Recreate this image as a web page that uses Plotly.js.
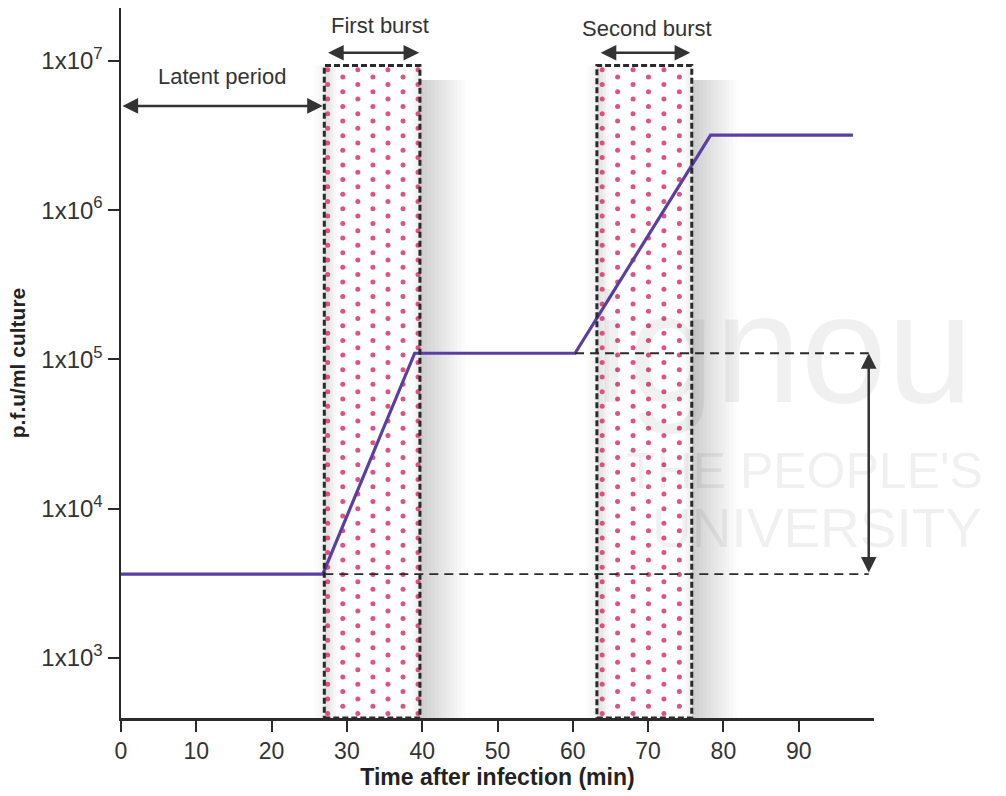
<!DOCTYPE html>
<html><head><meta charset="utf-8">
<script src="https://cdn.plot.ly/plotly-3.0.1.min.js"></script>
<style>html,body{margin:0;padding:0;background:#fff}#chart{width:1006px;height:796px}</style>
</head><body><div id="chart"></div>
<script>
// ---- data ----
const timeMin = [0, 26.8, 39.0, 60.3, 78.3, 97.2];
const pfuPerMl = [3650, 3650, 110000, 110000, 3180000, 3180000];
const xTickVals = [0, 10, 20, 30, 40, 50, 60, 70, 80, 90];
const xTickText = ['0', '10', '20', '30', '40', '50', '60', '70', '80', '90'];
const yTickVals = [1e3, 1e4, 1e5, 1e6, 1e7];
const yTickText = ['1x10<sup>3</sup>', '1x10<sup>4</sup>', '1x10<sup>5</sup>', '1x10<sup>6</sup>', '1x10<sup>7</sup>'];
const burstStart = [27.0, 63.2];
const burstEnd = [39.7, 75.8];
const burstLabels = ['First burst', 'Second burst'];
const latentPeriod = [0, 26.8];
const burstSizeLevels = [3650, 110000];
const boxTop = 9.3e6;

// ---- layout constants ----
const X_RANGE = [0, 100];
const Y_RANGE_LOG = [2.598, 7.354];
const FONT = 'Liberation Sans, Arial, Helvetica, sans-serif';
const INK = '#2a2a2a';
const yBottom = Math.pow(10, Y_RANGE_LOG[0]);
const L = Math.log10;

// dotted texture inside burst windows (decorative)
const dotX = [], dotY = [];
const colOffset = [0.45, 0.7], colStep = [2.0, 2.05];
burstStart.forEach((s, i) => {
  const e = burstEnd[i];
  let row = 0;
  for (let ly = Y_RANGE_LOG[0] + 0.03; ly < L(boxTop) - 0.02; ly += 0.049, row++) {
    for (let c = 0; ; c++) {
      const x = s + colOffset[i] + c * colStep[i];
      if (x > e - 0.2) break;
      if ((c + row) % 2 === 0) { dotX.push(x); dotY.push(Math.pow(10, ly)); }
    }
  }
});

const shapes = [];
// soft shadows
burstStart.forEach((s, i) => {
  const e = burstEnd[i];
  for (let k = 1; k <= 12; k++) {
    shapes.push({type: 'rect', layer: 'below', xref: 'x', yref: 'y', x0: e, x1: e + 0.5 * k,
      y0: yBottom, y1: boxTop * 0.8, line: {width: 0}, fillcolor: 'rgba(0,0,0,0.015)'});
  }
  for (let k = 1; k <= 4; k++) {
    shapes.push({type: 'rect', layer: 'below', xref: 'x', yref: 'y', x0: s, x1: s + 0.4 * k,
      y0: yBottom, y1: boxTop, line: {width: 0}, fillcolor: 'rgba(0,0,0,0.03)'});
    shapes.push({type: 'rect', layer: 'below', xref: 'x', yref: 'y', x0: s - 0.35 * k, x1: s,
      y0: yBottom, y1: boxTop, line: {width: 0}, fillcolor: 'rgba(0,0,0,0.012)'});
    shapes.push({type: 'rect', layer: 'below', xref: 'x', yref: 'y', x0: e - 0.25 * k, x1: e,
      y0: yBottom, y1: boxTop, line: {width: 0}, fillcolor: 'rgba(0,0,0,0.02)'});
  }
  shapes.push({type: 'rect', layer: 'above', xref: 'x', yref: 'y', x0: s, x1: e,
    y0: yBottom, y1: boxTop, line: {color: INK, width: 3, dash: '6px,3px'}, fillcolor: 'rgba(0,0,0,0)'});
});
// burst size guide lines
shapes.push({type: 'line', layer: 'above', xref: 'x', yref: 'y', x0: burstStart[0], x1: 99.3,
  y0: burstSizeLevels[0], y1: burstSizeLevels[0], line: {color: INK, width: 1.8, dash: '9px,6px'}});
shapes.push({type: 'line', layer: 'above', xref: 'x', yref: 'y', x0: timeMin[3], x1: 99.3,
  y0: burstSizeLevels[1], y1: burstSizeLevels[1], line: {color: INK, width: 1.8, dash: '9px,6px'}});

function dblArrow(x0, y0, x1, y1) {
  return {xref: 'x', yref: 'y', axref: 'x', ayref: 'y', x: x1, y: y1, ax: x0, ay: y0, text: '',
    showarrow: true, arrowside: 'end+start', arrowhead: 2, startarrowhead: 2,
    arrowsize: 1.25, startarrowsize: 1.25, arrowwidth: 2.5, arrowcolor: '#333', standoff: 0, startstandoff: 0};
}
const txtFont = {family: FONT, size: 22, color: '#333'};
const WM = 'rgba(0,0,0,0.06)';
const annotations = [
  // faint watermark
  {xref: 'paper', yref: 'paper', x: (592 - 121) / 753, y: (718 - 348) / 710, xanchor: 'left', yanchor: 'middle',
    text: 'ignou', showarrow: false, font: {family: FONT, size: 155, color: WM}},
  {xref: 'paper', yref: 'paper', x: (624 - 121) / 753, y: (718 - 471) / 710, xanchor: 'left', yanchor: 'middle',
    text: "THE PEOPLE'S", showarrow: false, font: {family: FONT, size: 50, color: WM}},
  {xref: 'paper', yref: 'paper', x: (650 - 121) / 753, y: (718 - 528) / 710, xanchor: 'left', yanchor: 'middle',
    text: 'UNIVERSITY', showarrow: false, font: {family: FONT, size: 55, color: WM}},
  // labels + arrows
  {xref: 'x', yref: 'y', x: 13.4, y: 6.893, text: 'Latent period', showarrow: false, font: txtFont},
  dblArrow(latentPeriod[0], 6.698, latentPeriod[1], 6.698),
  {xref: 'x', yref: 'y', x: 34.4, y: 7.24, text: burstLabels[0], showarrow: false, font: txtFont},
  dblArrow(burstStart[0] + 0.3, 7.054, burstEnd[0] - 0.1, 7.054),
  {xref: 'x', yref: 'y', x: 69.9, y: 7.22, text: burstLabels[1], showarrow: false, font: txtFont},
  dblArrow(burstStart[1] + 0.3, 7.054, burstEnd[1] - 0.2, 7.054),
  dblArrow(99.3, L(burstSizeLevels[0]), 99.3, L(burstSizeLevels[1])),
  {xref: 'x', yref: 'y', x: 101.6, y: 4.313, xanchor: 'left', text: '<b>Burst size</b>', showarrow: false,
    font: {family: FONT, size: 22, color: '#222'}}
];

const traces = [
  {x: dotX, y: dotY, type: 'scatter', mode: 'markers', hoverinfo: 'skip', showlegend: false,
    marker: {size: 5, color: '#dc3f78', opacity: 0.9}},
  {x: timeMin, y: pfuPerMl, type: 'scatter', mode: 'lines', name: 'p.f.u/ml', showlegend: false,
    line: {color: '#5a3fa2', width: 3.2}}
];

const layout = {
  width: 1006, height: 796,
  margin: {l: 121, r: 132, t: 8, b: 78},
  paper_bgcolor: '#fff', plot_bgcolor: '#fff',
  font: {family: FONT, size: 22, color: '#333'},
  showlegend: false,
  xaxis: {range: X_RANGE, tickvals: xTickVals, ticktext: xTickText, ticks: 'outside', ticklen: 11,
    tickwidth: 2, tickcolor: INK, showline: true, linecolor: INK, linewidth: 2.5, showgrid: false,
    zeroline: false, tickfont: {family: FONT, size: 23, color: '#333'},
    title: {text: '<b>Time after infection (min)</b>', font: {family: FONT, size: 23, color: '#222'}, standoff: 1}},
  yaxis: {type: 'log', range: Y_RANGE_LOG, tickvals: yTickVals, ticktext: yTickText, ticks: 'outside',
    ticklen: 11, tickwidth: 2, tickcolor: INK, showline: true, linecolor: INK, linewidth: 2.5,
    showgrid: false, zeroline: false, tickfont: {family: FONT, size: 24, color: '#333'},
    title: {text: '<b>p.f.u/ml culture</b>', font: {family: FONT, size: 21, color: '#222'}, standoff: 10}},
  shapes: shapes,
  annotations: annotations
};

Plotly.newPlot('chart', traces, layout, {staticPlot: true, displayModeBar: false});
</script></body></html>
